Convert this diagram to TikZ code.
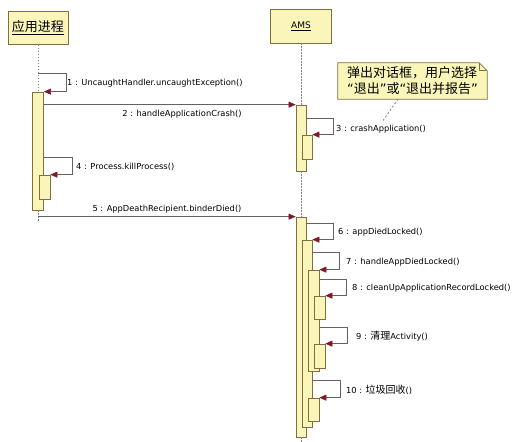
\documentclass[tikz,border=0pt]{standalone}
\usepackage{fontspec}
\setmainfont{DejaVu Sans}
\newfontfamily\cjk{Noto Sans CJK SC}
\newfontfamily\lat{DejaVu Sans}
\usetikzlibrary{arrows.meta,backgrounds}
\definecolor{boxfill}{RGB}{250,246,185}
\definecolor{boxline}{RGB}{130,110,60}
\definecolor{tipred}{RGB}{125,25,40}
\definecolor{msgline}{RGB}{105,95,95}

\begin{document}
\begin{tikzpicture}[x=1pt,y=-1pt,
  head/.style={draw=boxline,fill=boxfill,line width=.8pt,minimum width=60,minimum height=33,inner sep=0},
  act/.style={draw=boxline,fill=boxfill,line width=.7pt,minimum width=11,inner sep=0},
  life/.style={draw=gray,line width=.8pt,dash pattern=on 1.5pt off 1.5pt},
  msg/.style={draw=msgline,line width=.6pt,-{Triangle[length=7pt,width=6pt,fill=tipred,color=tipred]}},
  lbl/.style={font=\fontsize{8.3}{10}\selectfont,inner sep=1pt}]
  \useasboundingbox (0,0) rectangle (515,442);

  % objects
  \node[head] (app) at (38,28) {\cjk\fontsize{13}{13}\selectfont\underline{应用进程}};
  \node[head,minimum height=34,minimum width=61] (ams) at (301,26) {\fontsize{9}{9}\selectfont\underline{AMS}};

  % activations
  \node[act,minimum height=118] (appA) at (38,151) {};
  \node[act,minimum height=24] (appB) at (44.5,187) {};
  \node[act,minimum height=66,minimum width=10] (amsA) at (301,138) {};
  \node[act,minimum height=24,minimum width=10] (amsB) at (307,147) {};
  \node[act,minimum height=220,minimum width=10] (amsC) at (301,327) {};
  \node[act,minimum height=187,minimum width=10] (amsD) at (307,333.5) {};
  \node[act,minimum height=101] (amsE) at (313.5,320.5) {};
  \node[act,minimum height=23] (amsF) at (319.5,307.5) {};
  \node[act,minimum height=24] (amsG) at (319.5,356) {};
  \node[act,minimum height=23] (amsH) at (313.5,409.5) {};

  % lifelines
  \coordinate (appEnd) at (38,222);
  \coordinate (amsEnd) at (301,445);
  \draw[life] (app) -- (appA);
  \draw[life] (appA) -- (appEnd);
  \draw[life] (ams) -- (amsA);
  \draw[life] (amsA) -- (amsC);
  \draw[life] (amsC) -- (amsEnd);

  % messages
  \draw[msg] (app.south |- 0,73) -- (66,73) |- (appA.north east);
  \draw[msg] (appA.east |- amsA.north) -- (amsA.north west);
  \draw[msg] (amsA.east |- 0,118) -- ++(27,0) |- (amsB.north east);
  \draw[msg] (appA.east |- 0,157) -- ++(28.5,0) |- (appB.north east);
  \draw[msg] (appA.south |- amsC.north) -- (amsC.north west);
  \draw[msg] (amsC.east |- 0,223) -- ++(27,0) |- (amsD.north east);
  \draw[msg] (amsD.east |- 0,252) -- ++(27,0) |- (amsE.north east);
  \draw[msg] (amsE.east |- 0,279) -- ++(27,0) |- (amsF.north east);
  \draw[msg] (amsE.east |- 0,327) -- ++(28,0) |- (amsG.north east);
  \draw[msg] (amsD.east |- 0,380) -- ++(28,0) |- (amsH.north east);

  % labels
  \node[lbl,anchor=west] (l1) at (66,83) {1 : UncaughtHandler.uncaughtException()};
  \node[lbl] (l2) at (182,114) {2 : handleApplicationCrash()};
  \node[lbl,anchor=west] (l3) at (335,129) {3 : crashApplication()};
  \node[lbl,anchor=west] (l4) at (75,167) {4 : Process.killProcess()};
  \node[lbl] (l5) at (167,209) {5 : AppDeathRecipient.binderDied()};
  \node[lbl,anchor=west] (l6) at (337,232) {6 : appDiedLocked()};
  \node[lbl,anchor=west] (l7) at (345,262) {7 : handleAppDiedLocked()};
  \node[lbl,anchor=west] (l8) at (351,288) {8 : cleanUpApplicationRecordLocked()};
  \node[lbl,anchor=west] (l9) at (355,336) {9 : {\cjk\fontsize{10}{10}\selectfont 清理}Activity()};
  \node[lbl,anchor=west] (l10) at (345,390) {10 : {\cjk\fontsize{10}{10}\selectfont 垃圾回收}()};

  % note
  \node[font=\cjk\fontsize{13}{16}\selectfont,align=left,minimum width=149,minimum height=36,inner sep=2pt] (note) at (412.5,81)
    {弹出对话框，用户选择\\{\lat“}退出{\lat”}或{\lat“}退出并报告{\lat”}};
  \begin{scope}[on background layer]
    \draw[boxline,fill=boxfill,line width=.7pt] (note.north west) -- ([xshift=-8pt]note.north east) -- ([yshift=-8pt]note.north east) -- (note.south east) -- (note.south west) -- cycle;
    \draw[boxline,line width=.7pt] ([xshift=-8pt]note.north east) |- ([yshift=-8pt]note.north east);
  \end{scope}
  \coordinate (noteEnd) at (382,122);
  \draw[gray,line width=.8pt,dash pattern=on 2pt off 2pt] ([xshift=-14.5pt]note.south) -- (noteEnd);
\end{tikzpicture}
\end{document}
